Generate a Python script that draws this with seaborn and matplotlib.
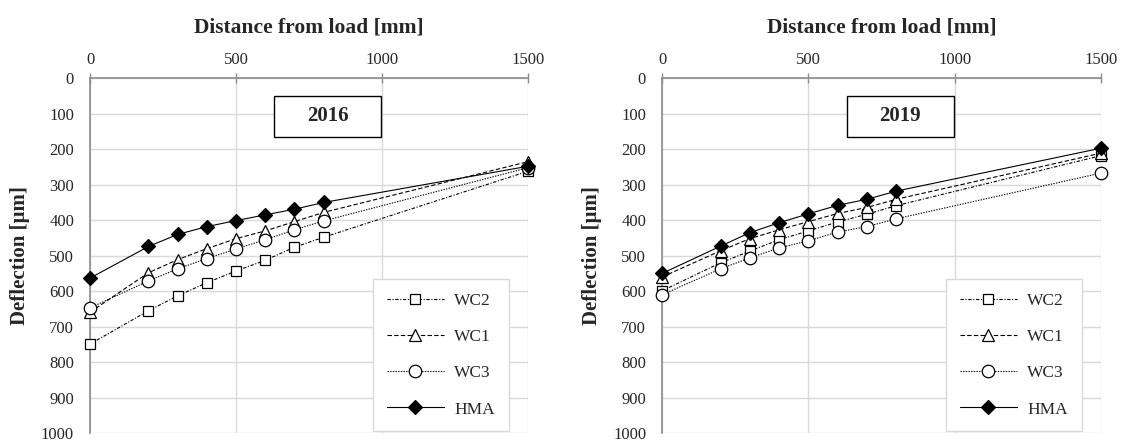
import numpy as np
import pandas as pd
import matplotlib
matplotlib.use("Agg")
import matplotlib.pyplot as plt
from matplotlib.patches import Rectangle
import seaborn as sns

# ------------------------------
# Dados
# ------------------------------
distancia = [0, 200, 300, 400, 500, 600, 700, 800, 1500]

series = ["WC2", "WC1", "WC3", "HMA"]

wc2_2016 = [749, 655, 613, 576, 543, 513, 476, 448, 262]
wc1_2016 = [659, 548, 511, 480, 452, 430, 404, 378, 235]
wc3_2016 = [647, 571, 537, 508, 481, 455, 427, 402, 252]
hma_2016 = [563, 474, 440, 418, 401, 385, 369, 350, 248]

wc2_2019 = [599, 520, 487, 455, 430, 405, 383, 359, 218]
wc1_2019 = [560, 486, 452, 427, 404, 381, 364, 341, 211]
wc3_2019 = [610, 537, 506, 478, 458, 433, 418, 396, 267]
hma_2019 = [550, 473, 435, 407, 382, 358, 341, 318, 197]

anos = ["2016", "2019"]
dados = {
    "2016": [wc2_2016, wc1_2016, wc3_2016, hma_2016],
    "2019": [wc2_2019, wc1_2019, wc3_2019, hma_2019],
}

# estilos de cada série
estilos = {
    "WC2": dict(linestyle=(0, (3, 1.5, 1, 1.5)), marker="s", markerfacecolor="white", markersize=7.5),
    "WC1": dict(linestyle=(0, (4, 2)), marker="^", markerfacecolor="white", markersize=8.5),
    "WC3": dict(linestyle=(0, (1.2, 1.2)), marker="o", markerfacecolor="white", markersize=9),
    "HMA": dict(linestyle="-", marker="D", markerfacecolor="black", markersize=7.5),
}

sns.set_style("white")
plt.rcParams["font.family"] = ["Liberation Serif", "DejaVu Serif"]

fig = plt.figure(figsize=(11.26, 4.42), dpi=100)
# área do gráfico: y=0 em ~78 px, y=1000 em ~433 px
posicoes = [[0.080, 0.020, 0.389, 0.803], [0.588, 0.020, 0.390, 0.803]]

cinza = "#8c8c8c"
for ano, pos in zip(anos, posicoes):
    ax = fig.add_axes(pos)
    for nome, valores in zip(series, dados[ano]):
        df = pd.DataFrame({"dist": distancia, "defl": valores})
        sns.lineplot(data=df, x="dist", y="defl", ax=ax, color="black", lw=0.8,
                     markeredgecolor="black", markeredgewidth=0.9, clip_on=False,
                     label=nome, zorder=3, **estilos[nome])

    ax.set_xlim(0, 1500)
    ax.set_ylim(1000, 0)
    ax.set_xticks([0, 500, 1000, 1500])
    ax.set_yticks(np.arange(0, 1001, 100))
    ax.xaxis.tick_top()
    ax.xaxis.set_label_position("top")
    ax.set_xlabel("Distance from load [mm]", fontsize=15.5, fontweight="bold", labelpad=14)
    ax.set_ylabel("Deflection [μm]", fontsize=15, fontweight="bold", labelpad=8)
    ax.tick_params(axis="both", labelsize=12, direction="inout", length=7, width=1,
                   color=cinza, pad=4)
    ax.tick_params(axis="y", pad=8)

    ax.grid(True, color="#d9d9d9", lw=1)
    for lado in ["right", "bottom"]:
        ax.spines[lado].set_visible(False)
    for lado in ["left", "top"]:
        ax.spines[lado].set_color(cinza)
        ax.spines[lado].set_linewidth(1.2)
        ax.spines[lado].set_zorder(2.5)

    # caixa com o ano
    ax.add_patch(Rectangle((0.420, 0.835), 0.245, 0.115, transform=ax.transAxes,
                           fc="white", ec="black", lw=1, zorder=4))
    ax.text(0.5425, 0.8925, ano, transform=ax.transAxes, ha="center", va="center",
            fontsize=15, fontweight="bold", zorder=5)

    leg = ax.legend(loc="lower right", bbox_to_anchor=(0.96, 0.0), fontsize=12.5,
                    frameon=True, fancybox=False, handlelength=3.3, handletextpad=0.6,
                    labelspacing=1.15, borderpad=0.8, borderaxespad=0.1)
    leg.get_frame().set_edgecolor("#d9d9d9")
    leg.get_frame().set_linewidth(1)
    leg.get_frame().set_alpha(1)

fig.savefig("out.png", dpi=100)
